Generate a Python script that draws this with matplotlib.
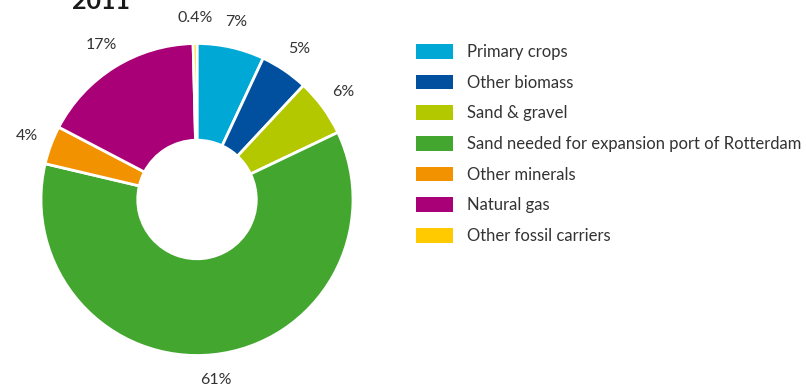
import matplotlib
matplotlib.use("Agg")
import matplotlib.pyplot as plt
from matplotlib.patches import Patch

plt.rcParams["font.family"] = ["Lato", "DejaVu Sans"]

# Raw material consumption shares, 2011
categories = [
    "Primary crops",
    "Other biomass",
    "Sand & gravel",
    "Sand needed for expansion port of Rotterdam",
    "Other minerals",
    "Natural gas",
    "Other fossil carriers",
]
shares = [7, 5, 6, 61, 4, 17, 0.4]
share_labels = ["7%", "5%", "6%", "61%", "4%", "17%", "0.4%"]
colors = ["#00a8d6", "#01509f", "#b4c800", "#43a62f", "#f39200", "#aa0077", "#ffcb00"]

W, H, DPI = 806, 387, 100
fig = plt.figure(figsize=(W / DPI, H / DPI), dpi=DPI)
fig.patch.set_facecolor("white")

# donut centre and radius in pixels
cx, cy, r = 197, 199.5, 156
half = 200
ax = fig.add_axes([(cx - half) / W, (H - cy - half) / H, 2 * half / W, 2 * half / H])

wedges, texts = ax.pie(
    shares,
    colors=colors,
    labels=share_labels,
    startangle=90,
    counterclock=False,
    labeldistance=1.165,
    wedgeprops=dict(width=0.62, edgecolor="white", linewidth=2),
    textprops=dict(fontsize=11.5, color="#333333"),
)
for t in texts:
    t.set_ha("center")
    t.set_va("center")

lim = half / r
ax.set_xlim(-lim, lim)
ax.set_ylim(-lim, lim)
ax.set_aspect("equal")
ax.axis("off")

fig.text(72 / W, 1 - 9 / H, "2011", fontsize=18, fontweight="bold",
         color="#1a1a1a", ha="left", va="baseline")

fs = 12
fs_px = fs * DPI / 72
handles = [Patch(facecolor=c, edgecolor="none") for c in colors]
fig.legend(
    handles, categories,
    loc="upper left",
    bbox_to_anchor=(416 / W, 1 - 44 / H),
    frameon=False,
    borderpad=0,
    borderaxespad=0,
    fontsize=fs,
    handlelength=37 / fs_px,
    handleheight=16 / fs_px,
    handletextpad=14 / fs_px,
    labelspacing=0.88,
    labelcolor="#333333",
)

fig.savefig("out.png", dpi=DPI)
